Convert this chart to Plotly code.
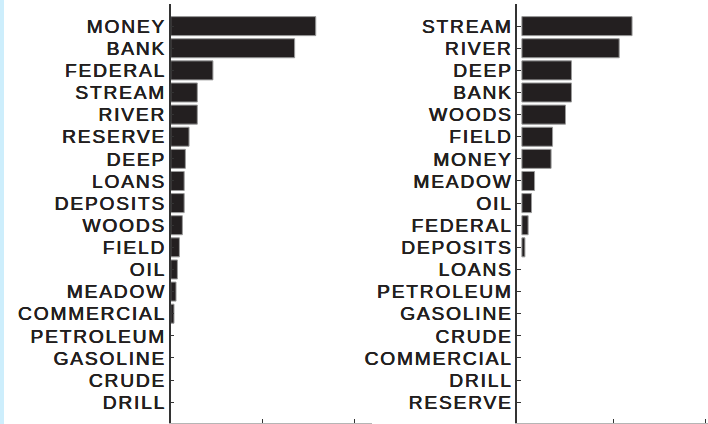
import plotly.graph_objects as go

# ---- data ----
words_left = ["MONEY", "BANK", "FEDERAL", "STREAM", "RIVER", "RESERVE", "DEEP",
              "LOANS", "DEPOSITS", "WOODS", "FIELD", "OIL", "MEADOW",
              "COMMERCIAL", "PETROLEUM", "GASOLINE", "CRUDE", "DRILL"]
vals_left = [0.158, 0.135, 0.046, 0.029, 0.029, 0.020, 0.016, 0.0147, 0.0147,
             0.0127, 0.0095, 0.0073, 0.0058, 0.0036, 0, 0, 0, 0]

words_right = ["STREAM", "RIVER", "DEEP", "BANK", "WOODS", "FIELD", "MONEY",
               "MEADOW", "OIL", "FEDERAL", "DEPOSITS", "LOANS", "PETROLEUM",
               "GASOLINE", "CRUDE", "COMMERCIAL", "DRILL", "RESERVE"]
vals_right = [0.120, 0.106, 0.054, 0.054, 0.0475, 0.0334, 0.0318, 0.0138,
              0.0105, 0.0068, 0.0033, 0, 0, 0, 0, 0, 0, 0]

x_ticks_left = [0, 0.1, 0.2]
x_ticks_right = [0.1, 0.2]

W, H = 708, 424
BAR = "#231f20"
EDGE = "#9a9a9a"
TXT = "#231f20"
FONT = "Liberation Sans, Arial, Helvetica, sans-serif"

fig = go.Figure()
fig.add_trace(go.Bar(
    x=vals_left, y=words_left, orientation="h", xaxis="x", yaxis="y",
    marker=dict(color=BAR, line=dict(color=EDGE, width=[1 if v > 0 else 0 for v in vals_left])),
    width=0.86, showlegend=False, hoverinfo="skip"))
fig.add_trace(go.Bar(
    x=vals_right, y=words_right, orientation="h", xaxis="x2", yaxis="y2",
    marker=dict(color=BAR, line=dict(color=EDGE, width=[1 if v > 0 else 0 for v in vals_right])),
    width=0.86, showlegend=False, hoverinfo="skip"))

n = len(words_left)
yrange = [n - 0.06, -1.0]

px_per_unit = 918.0
left_x0, left_x1 = 170.7, 372.0
right_x0, right_x1 = 517.3, 708.0

common_x = dict(showgrid=False, zeroline=False, showline=True, linecolor="#b5b5b5",
                linewidth=1, ticks="inside", ticklen=4, tickcolor="#333333",
                tickwidth=1, showticklabels=False, fixedrange=True)
common_y = dict(type="category", showgrid=False, zeroline=False, showline=True,
                linecolor="#333333", linewidth=1.5, ticks="inside", ticklen=4,
                tickcolor="#333333", tickwidth=1, range=yrange, automargin=False,
                ticklabelstandoff=-1, tickmode="array",
                tickfont=dict(family=FONT, size=19.2, color=TXT,
                              shadow="0.3px 0 0 #231f20, -0.3px 0 0 #231f20"),
                fixedrange=True)

fig.update_layout(
    width=W, height=H,
    margin=dict(l=0, r=0, t=4, b=1),
    paper_bgcolor="white", plot_bgcolor="white",
    bargap=0.1,
    xaxis=dict(domain=[left_x0 / W, left_x1 / W], anchor="y",
               range=[0, (left_x1 - left_x0) / px_per_unit],
               tickvals=x_ticks_left, **common_x),
    yaxis=dict(domain=[0, 1], anchor="x", categoryorder="array",
               categoryarray=words_left, tickvals=words_left, ticktext=words_left,
               **common_y),
    xaxis2=dict(domain=[right_x0 / W, right_x1 / W], anchor="y2",
                range=[-0.005, -0.005 + (right_x1 - right_x0) / px_per_unit],
                tickvals=x_ticks_right, **common_x),
    yaxis2=dict(domain=[0, 1], anchor="x2", categoryorder="array",
                categoryarray=words_right, tickvals=words_right, ticktext=words_right,
                **common_y),
    shapes=[dict(type="rect", xref="paper", yref="paper",
                 x0=0, x1=4 / W, y0=-0.02, y1=1.02,
                 fillcolor="#cdeefc", line=dict(width=0), layer="above")],
)

post = (
    "document.body.style.margin='0';"
    "var s=document.createElement('style');"
    "s.textContent='.ytick text, .y2tick text{letter-spacing:1.8px;}';"
    "document.head.appendChild(s);"
)
fig.write_html("out.html", config={"displayModeBar": False}, post_script=post)
